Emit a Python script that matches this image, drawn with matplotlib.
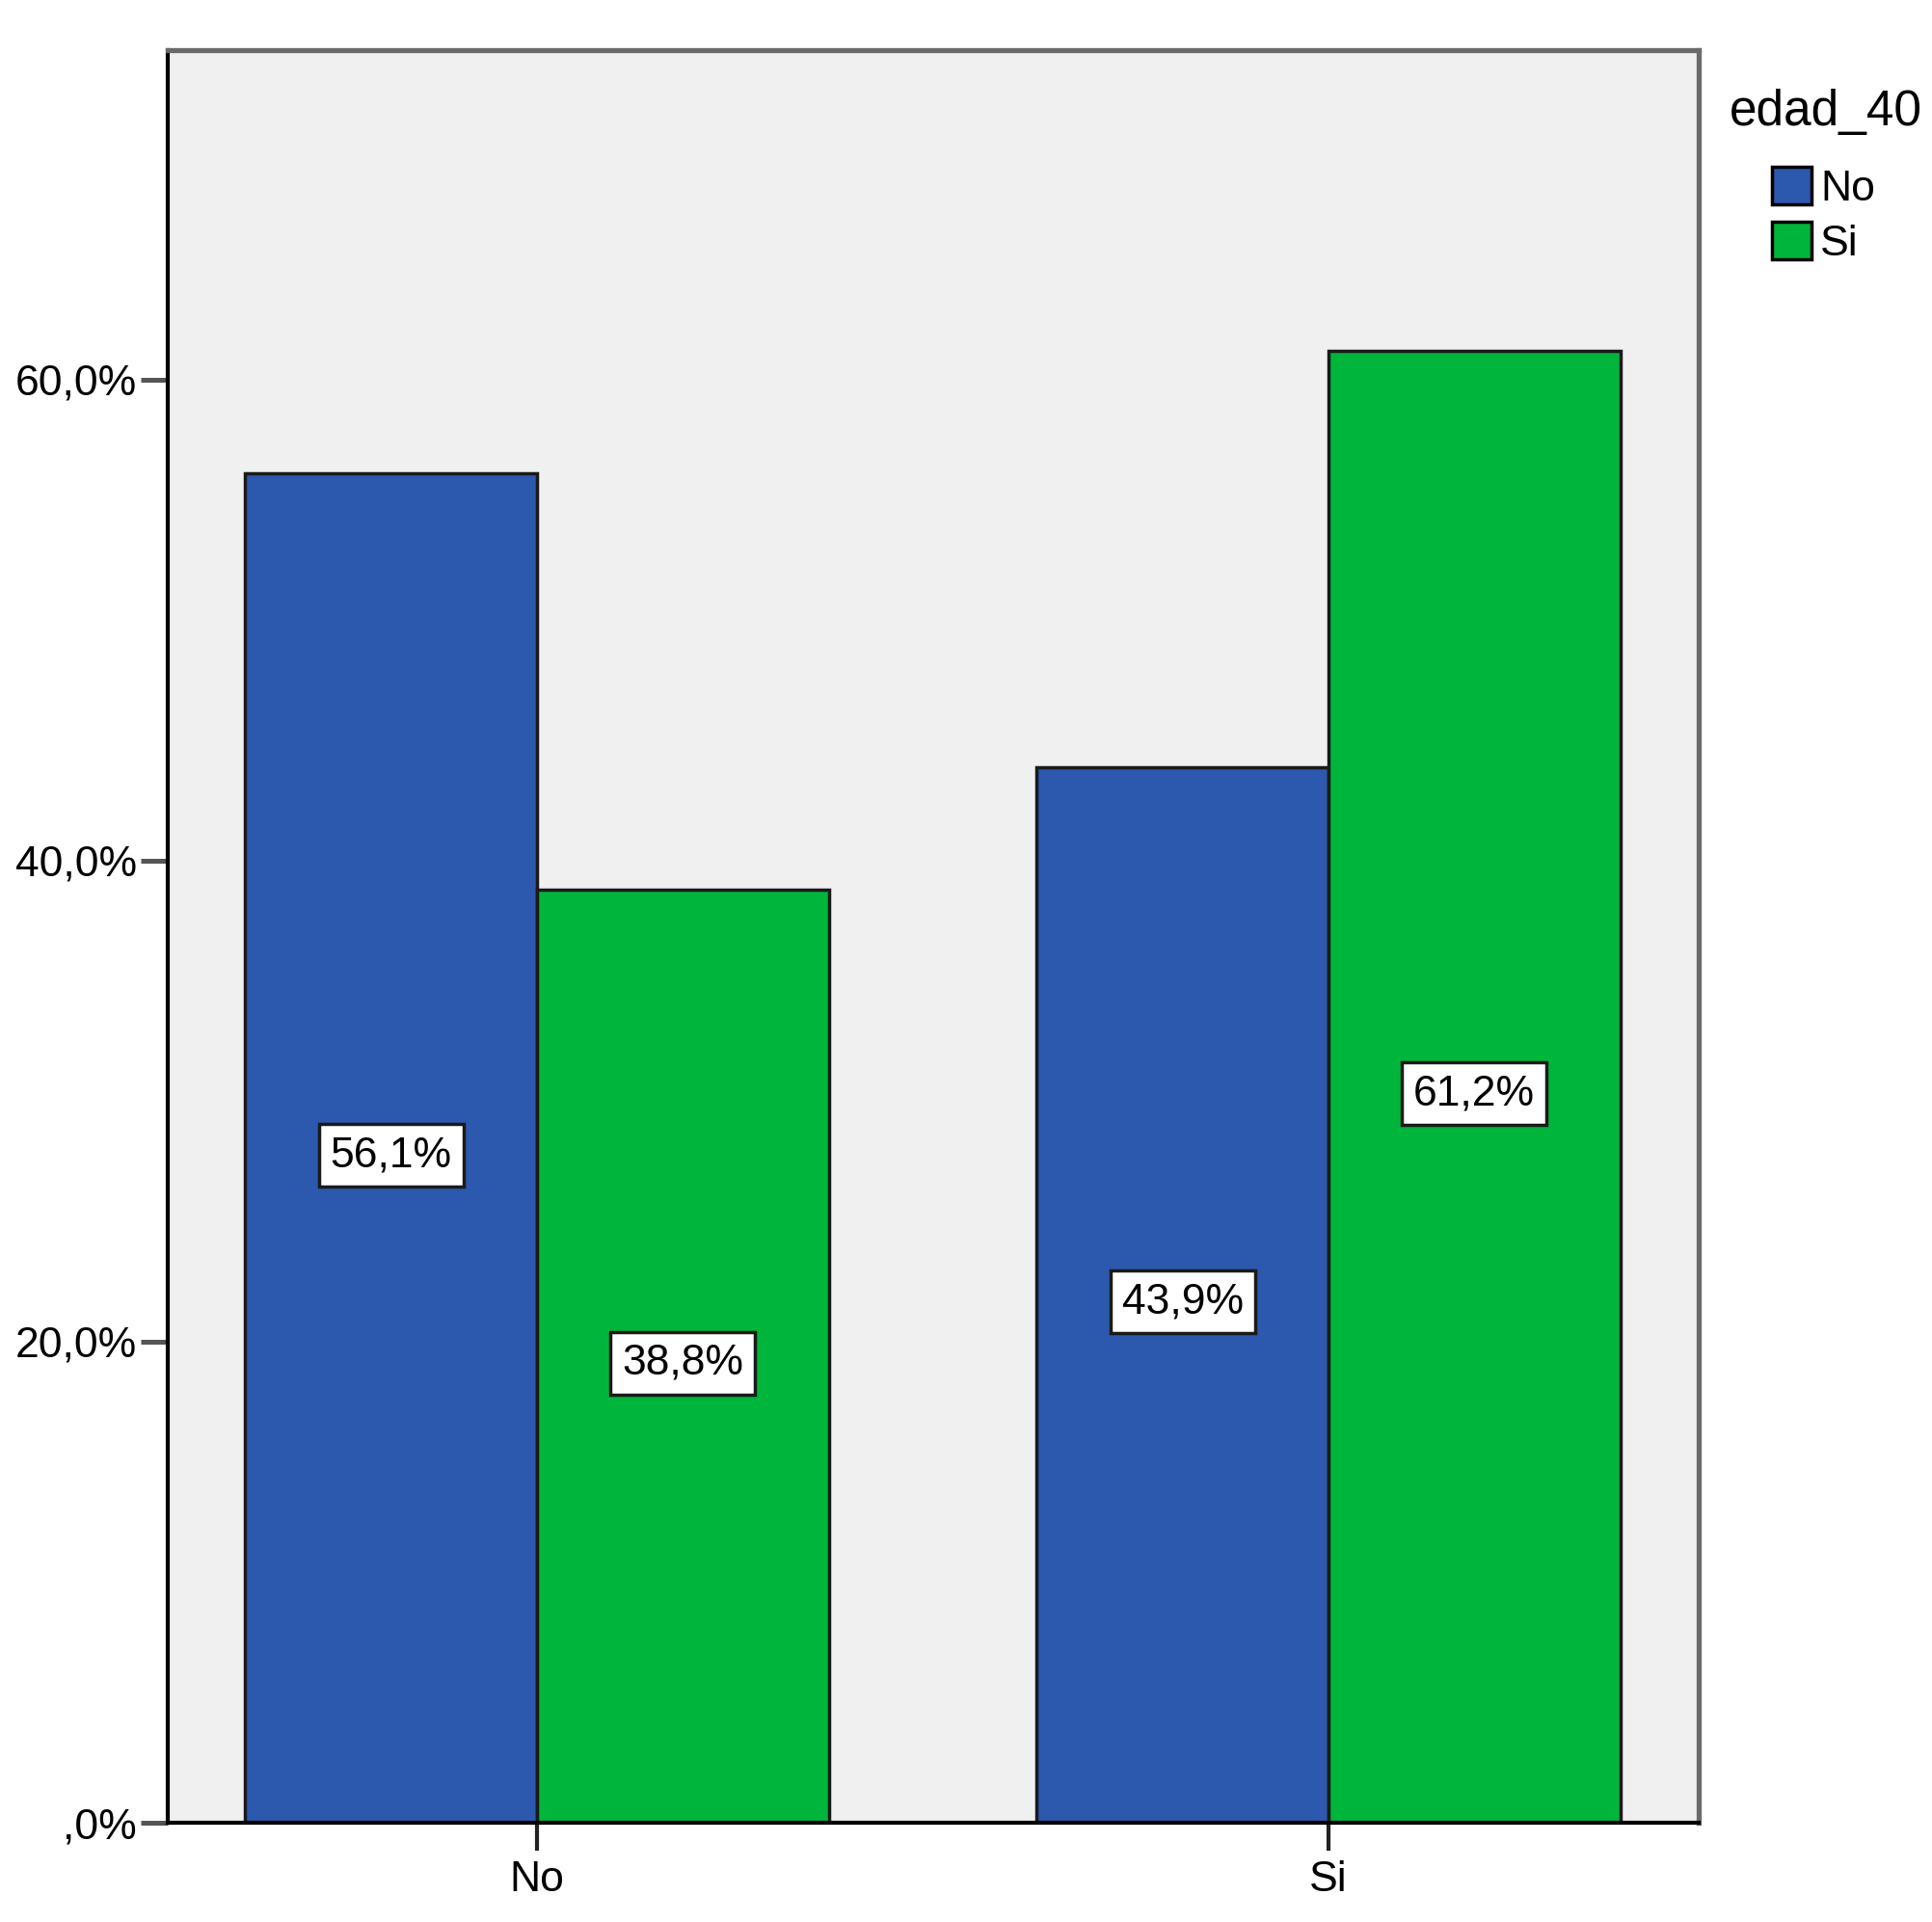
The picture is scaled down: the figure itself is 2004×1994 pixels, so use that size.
import numpy as np
import matplotlib.pyplot as plt
from matplotlib.patches import Patch

plt.rcParams['font.family'] = ['Liberation Sans', 'DejaVu Sans']

categories = ["No", "Si"]
series = ["No", "Si"]
values_no = [56.1, 43.9]
values_si = [38.8, 61.2]
yticks = [0, 20, 40, 60]
ytick_labels = [",0%", "20,0%", "40,0%", "60,0%"]

colors = ["#2c58ae", "#00b53b"]

fig = plt.figure(figsize=(20.04, 19.94), dpi=100)
ax = fig.add_axes([174/2004, 1 - 1891/1994, (1762-174)/2004, (1891-52)/1994])
ax.set_facecolor("#f0f0f0")

x = np.arange(len(categories))
w = 0.3685
for vals, off, c in [(values_no, -w/2, colors[0]), (values_si, w/2, colors[1])]:
    bars = ax.bar(x + off, vals, width=w, color=c, edgecolor="#1a1a1a", linewidth=2.5, zorder=2)
    for b, v in zip(bars, vals):
        ax.text(b.get_x() + b.get_width()/2, v/2 - 0.3, ("%.1f%%" % v).replace(".", ","),
                ha="center", va="center", fontsize=32, zorder=3,
                bbox=dict(boxstyle="square,pad=0.27", fc="white", ec="#1a1a1a", lw=2.5))

ax.set_xlim(-0.4665, 1.4677)
ax.set_ylim(0, 73.7)
ax.set_xticks(x)
ax.set_xticklabels(categories, fontsize=32)
ax.set_yticks(yticks)
ax.set_yticklabels(ytick_labels, fontsize=32)
ax.tick_params(axis="y", length=20, width=3.6, color="#555555", pad=3)
ax.tick_params(axis="x", length=21, width=3, color="#222222", pad=7)

for s in ["left", "bottom"]:
    ax.spines[s].set_color("black")
    ax.spines[s].set_linewidth(3)
for s in ["top", "right"]:
    ax.spines[s].set_color("#6a6a6a")
    ax.spines[s].set_linewidth(3.8)

fig.text(1794/2004, 1 - 116/1994, "edad_40", fontsize=37, ha="left", va="center")
handles = [Patch(facecolor=colors[i], edgecolor="black", linewidth=2.5, label=series[i]) for i in range(2)]
fig.legend(handles=handles, loc="upper left", bbox_to_anchor=(1807/2004, 1 - 142/1994),
           frameon=False, fontsize=32, handlelength=0.92, handleheight=0.97,
           handletextpad=0.2, labelspacing=0.3, borderpad=0.2)

fig.savefig("out.png", dpi=100)
